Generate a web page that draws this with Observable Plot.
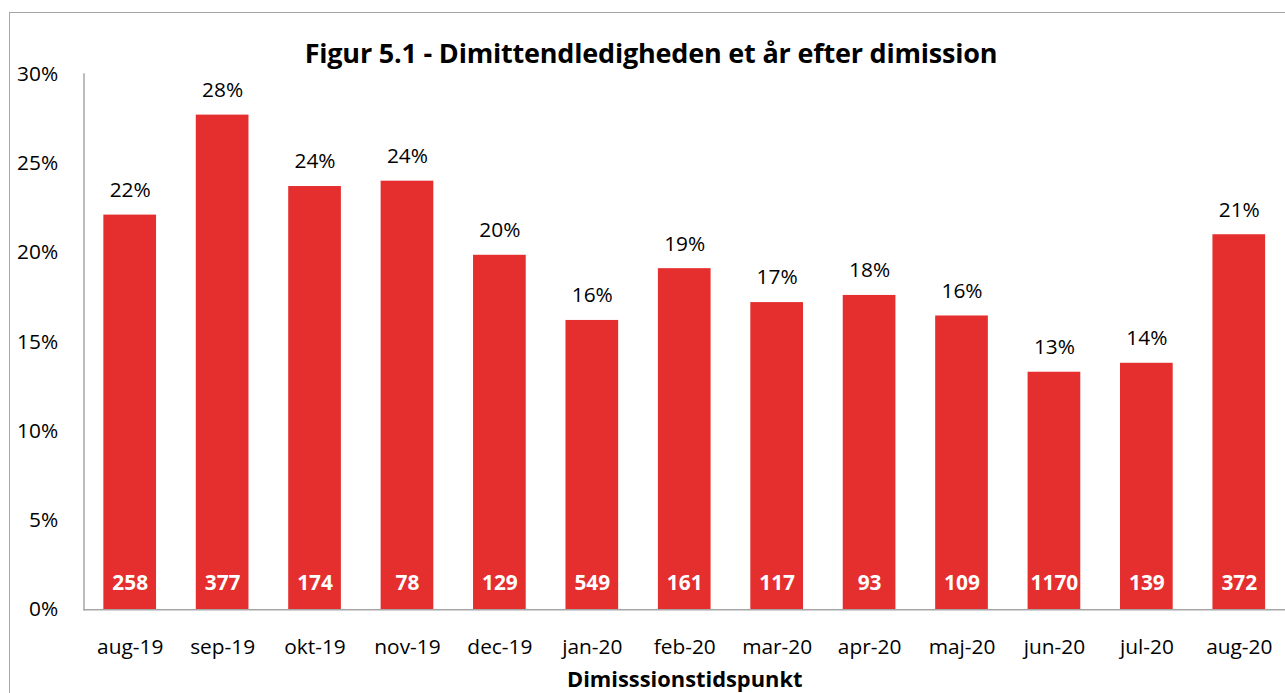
<!DOCTYPE html>
<html>
<head>
<meta charset="utf-8">
<script src="https://cdn.jsdelivr.net/npm/d3@7"></script>
<script src="https://cdn.jsdelivr.net/npm/@observablehq/plot@0.6"></script>
<style>
  html, body { margin: 0; padding: 0; background: #fff; overflow: hidden; }
  #wrap { position: relative; width: 1285px; height: 693px; overflow: hidden; font-family: "Open Sans", sans-serif; }
  #border { position: absolute; left: 9px; top: 12px; width: 3000px; height: 3000px; border-left: 1px solid #a6a6a6; border-top: 1px solid #a6a6a6; }
  #title { position: absolute; left: 0; width: 1302px; top: 35px; text-align: center; font-weight: bold; font-size: 27px; color: #000; line-height: 36px; letter-spacing: -0.2px; }
  #chart { position: absolute; left: 0; top: 0; }
</style>
</head>
<body>
<div id="wrap">
  <div id="border"></div>
  <div id="chart"></div>
  <div id="title">Figur 5.1 - Dimittendledigheden et år efter dimission</div>
</div>
<script>
const categories = ["aug-19","sep-19","okt-19","nov-19","dec-19","jan-20","feb-20","mar-20","apr-20","maj-20","jun-20","jul-20","aug-20"];
const rates = [0.221, 0.277, 0.237, 0.240, 0.1985, 0.162, 0.191, 0.172, 0.176, 0.1645, 0.133, 0.138, 0.210];
const counts = [258, 377, 174, 78, 129, 549, 161, 117, 93, 109, 1170, 139, 372];
const yTicks = [0, 0.05, 0.10, 0.15, 0.20, 0.25, 0.30];

const data = categories.map((c, i) => ({cat: c, rate: rates[i], n: counts[i]}));
const pct = d3.format(".0%");

const chart = Plot.plot({
  width: 1293,
  height: 693,
  marginLeft: 84,
  marginRight: 0,
  marginTop: 74,
  marginBottom: 80,
  style: {fontFamily: "'Open Sans', sans-serif", fontSize: "21px", color: "#000", background: "transparent", overflow: "visible"},
  x: {domain: categories, paddingInner: 0.43, paddingOuter: 0.215, round: false, label: null},
  y: {domain: [0, 0.30], label: null},
  marks: [
    Plot.barY(data, {x: "cat", y: "rate", fill: "#e52e2e"}),
    Plot.ruleY([0], {stroke: "#a6a6a6", strokeWidth: 1.5}),
    Plot.frame({anchor: "left", stroke: "#a6a6a6", strokeWidth: 1.5}),
    Plot.axisY({ticks: yTicks, tickFormat: pct, tickSize: 0, tickPadding: 26, fontSize: 21, label: null}),
    Plot.axisX({tickSize: 0, tickPadding: 30, fontSize: 21, label: null}),
    Plot.text(data, {x: "cat", y: "rate", text: d => pct(d.rate), dy: -25, fontSize: 21, fill: "#000"}),
    Plot.text(data, {x: "cat", y: 0, text: d => String(d.n), dy: -27, fontSize: 21, fontWeight: "bold", fill: "#fff"}),
    Plot.text(["Dimisssionstidspunkt"], {frameAnchor: "bottom", dy: 78, fontSize: 22, fontWeight: "bold", fill: "#000"})
  ]
});
document.getElementById("chart").appendChild(chart);
</script>
</body>
</html>
